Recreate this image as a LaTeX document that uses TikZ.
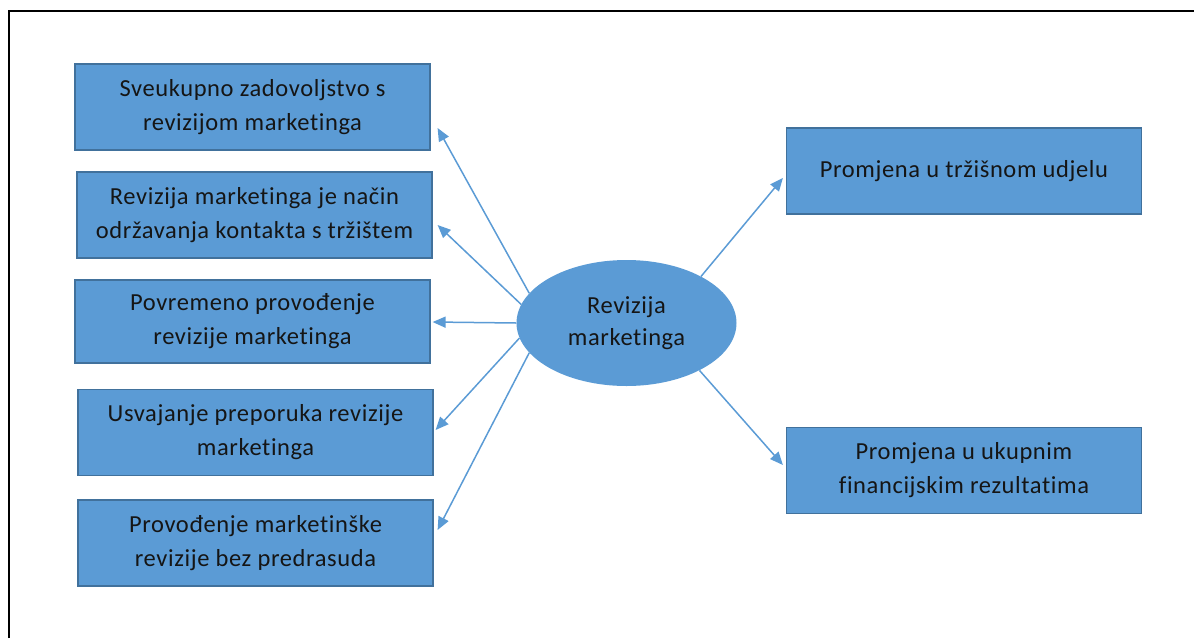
\documentclass[tikz,border=0pt]{standalone}
\usepackage{fontspec}
\setmainfont{Carlito}[LetterSpace=2.5,Ligatures={NoCommon}]
\usetikzlibrary{shapes.geometric,arrows.meta}
\definecolor{boxfill}{HTML}{5B9BD5}
\definecolor{boxline}{HTML}{41719C}
\definecolor{arrowc}{HTML}{5B9BD5}
\definecolor{txt}{HTML}{151515}
\tikzset{
  box/.style={rectangle, fill=boxfill, draw=boxline, line width=1.2pt, minimum width=355pt, minimum height=86pt, inner sep=0pt, align=center, text=txt, font=\fontsize{24.5}{34}\selectfont},
  ell/.style={ellipse, fill=boxfill, draw=none, minimum width=220pt, minimum height=126pt, inner sep=0pt, align=center, text=txt, font=\fontsize{24.5}{32}\selectfont},
  conn/.style={draw=arrowc, line width=1.5pt, -{Triangle[length=13pt,width=11pt]}},
  frame/.style={draw=black, line width=1.6pt}
}
\begin{document}
\begin{tikzpicture}[x=1pt,y=-1pt]
\useasboundingbox (0,0) rectangle (1194,638);
\coordinate (fa) at (9,638);
\coordinate (fb) at (9,11);
\coordinate (fc) at (1194,11);
\draw[frame] (fa) -- (fb) -- (fc);

\node[box] (b1) at (252.5,107) {Sveukupno zadovoljstvo s\\revizijom marketinga};
\node[box] (b2) at (254.5,215) {Revizija marketinga je način\\održavanja kontakta s tržištem};
\node[box, minimum height=83pt] (b3) at (252.5,321.5) {Povremeno provođenje\\revizije marketinga};
\node[box] (b4) at (255.5,432.5) {Usvajanje preporuka revizije\\marketinga};
\node[box] (b5) at (255.5,543) {Provođenje marketinške\\revizije bez predrasuda};
\node[box] (r1) at (964,171) {Promjena u tržišnom udjelu};
\node[box] (r2) at (964,470.5) {Promjena u ukupnim\\financijskim rezultatima};

\node[ell] (c) at (626.5,323) {Revizija\\marketinga};

\draw[conn] (c.163) -- ([xshift=7pt,yshift=-21pt]b1.east);
\draw[conn] (c.170) -- ([xshift=5pt,yshift=-10pt]b2.east);
\draw[conn] (c.180) -- ([xshift=2pt,yshift=-0.5pt]b3.east);
\draw[conn] (c.188) -- ([xshift=2pt,yshift=2.5pt]b4.east);
\draw[conn] (c.197) -- ([xshift=4pt,yshift=13pt]b5.east);
\draw[conn] (c.32) -- ([xshift=-3pt,yshift=-7pt]r1.west);
\draw[conn] (c.327) -- ([xshift=-3pt,yshift=5.5pt]r2.west);
\end{tikzpicture}
\end{document}
